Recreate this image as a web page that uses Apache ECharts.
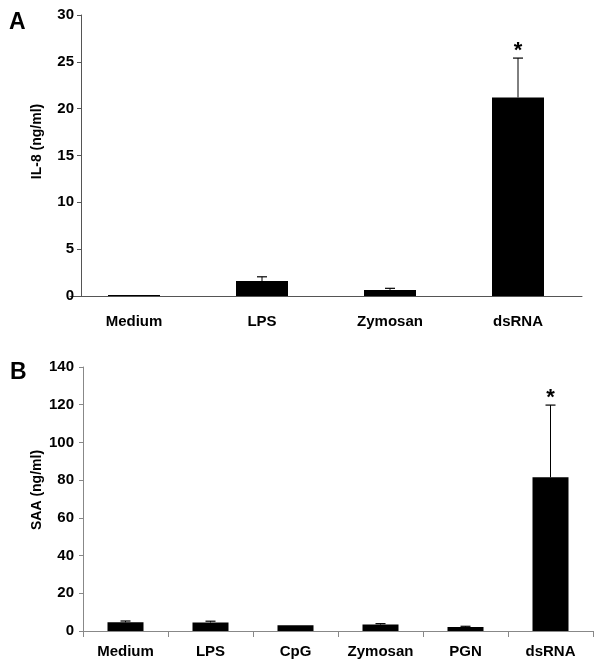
<!DOCTYPE html>
<html><head><meta charset="utf-8">
<script src="https://cdn.jsdelivr.net/npm/echarts@6/dist/echarts.min.js"></script>
<style>html,body{margin:0;padding:0;background:#fff}#c{width:595px;height:663px}</style>
</head><body><div id="c"></div>
<script>
// Panel A
const catsA = ['Medium', 'LPS', 'Zymosan', 'dsRNA'];
const meanA = [0.1, 1.6, 0.65, 21.2];
const errA  = [0, 0.45, 0.17, 4.2];
const sigA  = ['', '', '', '*'];
const axisA = { name: 'IL-8 (ng/ml)', min: 0, max: 30, interval: 5 };
// Panel B
const catsB = ['Medium', 'LPS', 'CpG', 'Zymosan', 'PGN', 'dsRNA'];
const meanB = [4.6, 4.5, 3.0, 3.4, 2.1, 81.5];
const errB  = [0.7, 0.7, 0, 0.5, 0.4, 38.3];
const sigB  = ['', '', '', '', '', '*'];
const axisB = { name: 'SAA (ng/ml)', min: 0, max: 140, interval: 20 };

const FONT = 'Liberation Sans, Arial, Helvetica, sans-serif';

function errRender(sigs) {
  return function (params, api) {
    const i = api.value(0), m = api.value(1), e = api.value(2);
    const base = api.coord([i, m]);
    const top = api.coord([i, m + e]);
    const children = [];
    if (e > 0) {
      children.push({ type: 'line', shape: { x1: base[0], y1: base[1], x2: top[0], y2: top[1] }, style: { stroke: '#000', lineWidth: 1 } });
      children.push({ type: 'line', shape: { x1: top[0] - 5, y1: top[1], x2: top[0] + 5, y2: top[1] }, style: { stroke: '#000', lineWidth: 1.2 } });
    }
    const s = sigs[params.dataIndex];
    if (s) {
      children.push({ type: 'text', x: top[0], y: top[1] - 7, style: { text: s, textAlign: 'center', textVerticalAlign: 'middle', font: 'bold 22px ' + FONT, fill: '#000' } });
    }
    return { type: 'group', children: children };
  };
}

function yAxisCfg(ax, grid, color, margin, gap, offset, pad) {
  return {
    type: 'value', gridIndex: grid, min: ax.min, max: ax.max, interval: ax.interval,
    offset: offset,
    name: ax.name, nameLocation: 'middle', nameGap: gap, nameRotate: 90, nameMoveOverlap: false,
    nameTextStyle: { fontFamily: FONT, fontWeight: 'bold', fontSize: 14, color: '#000', padding: pad },
    axisLine: { show: true, lineStyle: { color: color, width: 1 } },
    axisTick: { show: true, length: 4, lineStyle: { color: color } },
    axisLabel: { margin: margin, fontFamily: FONT, fontWeight: 'bold', fontSize: 15, color: '#000' },
    splitLine: { show: false }
  };
}

const chart = echarts.init(document.getElementById('c'), null, { renderer: 'canvas' });
chart.setOption({
  animation: false,
  backgroundColor: '#fff',
  title: [
    { text: 'A', left: 4, top: 6, textStyle: { fontFamily: FONT, fontWeight: 'bold', fontSize: 23, color: '#000' } },
    { text: 'B', left: 5, top: 356, textStyle: { fontFamily: FONT, fontWeight: 'bold', fontSize: 23, color: '#000' } }
  ],
  grid: [
    { left: 70, top: 15, width: 512, height: 281 },
    { left: 83, top: 367, width: 510, height: 264 }
  ],
  xAxis: [
    { type: 'category', gridIndex: 0, data: catsA,
      axisLine: { lineStyle: { color: '#555', width: 1 } },
      axisTick: { show: false },
      axisLabel: { interval: 0, margin: 18, fontFamily: FONT, fontWeight: 'bold', fontSize: 15, color: '#000' } },
    { type: 'category', gridIndex: 1, data: catsB,
      axisLine: { lineStyle: { color: '#888', width: 1 } },
      axisTick: { show: true, interval: 0, length: 6, alignWithLabel: false, lineStyle: { color: '#888' } },
      axisLabel: { interval: 0, margin: 13, fontFamily: FONT, fontWeight: 'bold', fontSize: 15, color: '#000' } }
  ],
  yAxis: [
    yAxisCfg(axisA, 0, '#555', 7, 37, -11, [0, 0, 0, 28]),
    yAxisCfg(axisB, 1, '#888', 9, 39, 0, [0, 0, 0, 18])
  ],
  series: [
    { type: 'bar', xAxisIndex: 0, yAxisIndex: 0, data: meanA, barWidth: 52, itemStyle: { color: '#000' } },
    { type: 'custom', xAxisIndex: 0, yAxisIndex: 0, renderItem: errRender(sigA),
      data: meanA.map((m, i) => [i, m, errA[i]]), z: 5 },
    { type: 'bar', xAxisIndex: 1, yAxisIndex: 1, data: meanB, barWidth: 36, itemStyle: { color: '#000' } },
    { type: 'custom', xAxisIndex: 1, yAxisIndex: 1, renderItem: errRender(sigB),
      data: meanB.map((m, i) => [i, m, errB[i]]), z: 5 }
  ]
});
</script>
</body></html>
